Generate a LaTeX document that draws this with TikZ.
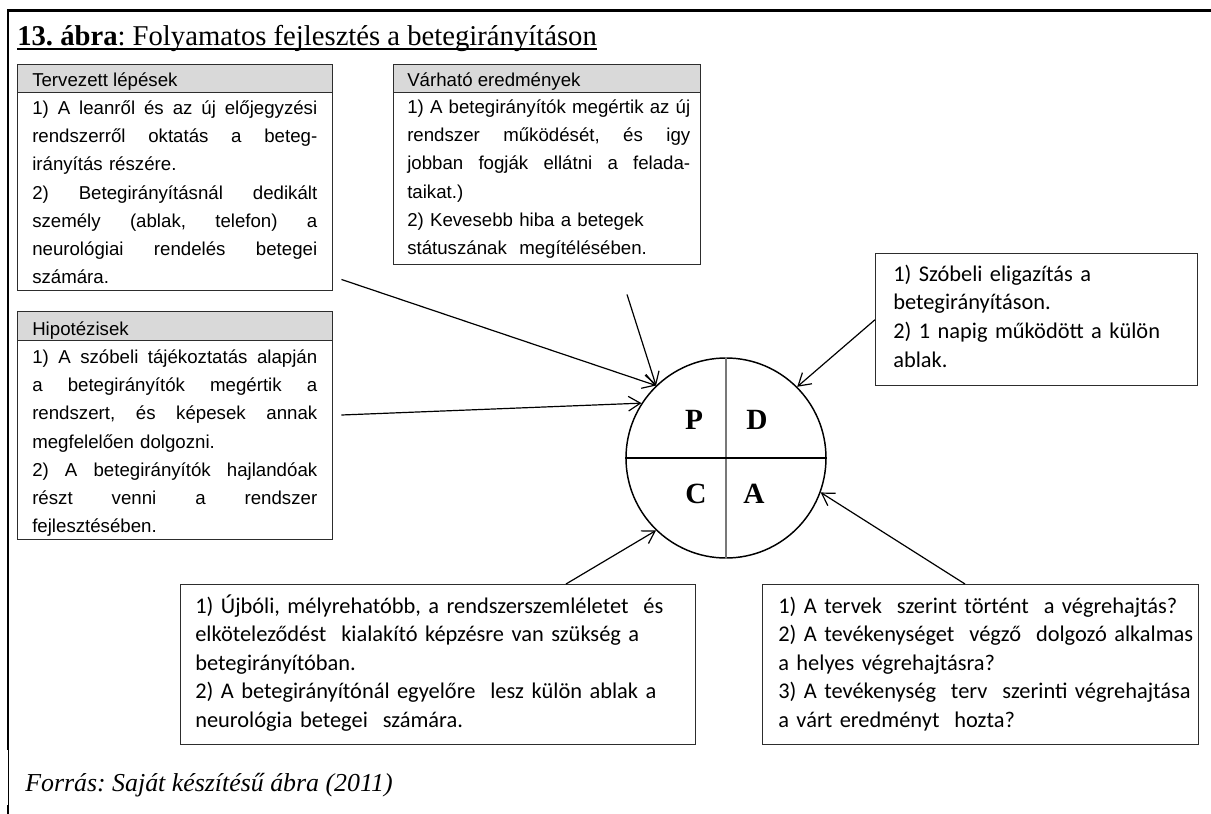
\documentclass[tikz,border=0pt]{standalone}
\usepackage{fontspec}
\setmainfont{Liberation Serif}
\newfontfamily\arialf{Liberation Sans}
\newfontfamily\calf{Carlito}
\usetikzlibrary{arrows.meta,calc}
\frenchspacing

\definecolor{hdrgray}{RGB}{217,217,217}
\definecolor{edgegray}{RGB}{45,45,45}
\definecolor{midgray}{RGB}{120,120,120}

% a justified line of a panel text: the word spaces stretch to the full width
\newcommand\jl[1]{\makebox[\linewidth][s]{\spaceskip=0.278em plus 10em\relax #1}}
\newcommand\sstrut{\rule{0pt}{15pt}}
\newcommand\cstrut{\rule{0pt}{17pt}}

\tikzset{
  panel/.style={draw=edgegray, line width=1.1pt, rectangle, inner sep=0pt, anchor=north west},
  header/.style={panel, fill=hdrgray},
  hdrtext/.style={font=\arialf\fontsize{14}{17}\selectfont, anchor=base west, inner sep=0pt},
  bodytext/.style={font=\arialf\fontsize{14}{21.2}\selectfont, anchor=north west, inner sep=0pt, align=left},
  notetext/.style={font=\calf\fontsize{16.8}{21.4}\selectfont, anchor=north west, inner sep=0pt, align=left, text width=380pt},
  letter/.style={font=\bfseries\fontsize{22}{22}\selectfont, anchor=base, inner sep=0pt},
  link/.style={line width=0.9pt, -{Straight Barb[length=9pt,width=11pt]}},
}

\begin{document}
\begin{tikzpicture}[x=0.75pt, y=-0.75pt]
\useasboundingbox (0,0) rectangle (1211,814);

% page frame
\draw[line width=2.25pt] (7,10) -- (1211,10);
\draw[line width=2pt] (8,9) -- (8,750);
\draw[line width=0.6pt] (8,750) -- (8,805);
\draw[line width=2pt] (8,805) -- (8,814);

% title
\node[anchor=base west, inner sep=0pt, font=\fontsize{21.5}{24}\selectfont] (title) at (17,45)
  {\textbf{13. ábra}: Folyamatos fejlesztés a betegirányításon};
\draw[line width=1.1pt] ($(title.base west)+(0,4)$) -- ($(title.base east)+(0,4)$);

% planned steps
\node[panel, minimum width=236.25pt, minimum height=169.5pt] (tbox) at (17,64) {};
\node[header, minimum width=236.25pt, minimum height=21pt] (thead) at (17,64) {};
\node[hdrtext] (thtext) at (32,86) {Tervezett lépések};
\node[bodytext, text width=213.75pt] (tbody) at (32,94) {%
\sstrut\jl{1) A leanről és az új előjegyzési}\\
\jl{rendszerről oktatás a beteg-}\\
irányítás részére.\\
\jl{2) Betegirányításnál dedikált}\\
\jl{személy (ablak, telefon) a}\\
\jl{neurológiai rendelés betegei}\\
számára.};

% hypotheses
\node[panel, minimum width=236.25pt, minimum height=171pt] (hbox) at (17,311) {};
\node[header, minimum width=236.25pt, minimum height=21.75pt] (hhead) at (17,311) {};
\node[hdrtext] (hhtext) at (32,335) {Hipotézisek};
\node[bodytext, text width=213.75pt] (hbody) at (32,343) {%
\sstrut\jl{1) A szóbeli tájékoztatás alapján}\\
\jl{a betegirányítók megértik a}\\
\jl{rendszert, és képesek annak}\\
megfelelően dolgozni.\\
\jl{2) A betegirányítók hajlandóak}\\
\jl{részt venni a rendszer}\\
fejlesztésében.};

% expected results
\node[panel, minimum width=230.25pt, minimum height=150pt] (vbox) at (393,64) {};
\node[header, minimum width=230.25pt, minimum height=21pt] (vhead) at (393,64) {};
\node[hdrtext] (vhtext) at (407,86) {Várható eredmények};
\node[bodytext, text width=212.25pt] (vbody) at (407,93) {%
\sstrut\jl{1) A betegirányítók megértik az új}\\
\jl{rendszer működését, és igy}\\
\jl{jobban fogják ellátni a felada-}\\
taikat.)\\
2) Kevesebb hiba a betegek\\
státuszának\ \ megítélésében.};

% PDCA circle
\node[circle, draw, line width=1.1pt, minimum size=150pt, inner sep=0pt] (pdca) at (726,458) {};
\draw[midgray, line width=1.7pt] (pdca.north) -- (pdca.south);
\draw[line width=1.1pt] (pdca.west) -- (pdca.east);
\node[letter] (lp) at (694,429) {P};
\node[letter] (ld) at (757,429) {D};
\node[letter] (lc) at (696,503) {C};
\node[letter] (la) at (754,503) {A};

% do
\node[panel, minimum width=241.5pt, minimum height=99pt] (dbox) at (875,253) {};
\node[notetext] (dtext) at (893,258.5) {%
\cstrut 1) Szóbeli eligazítás a\\
betegirányításon.\\
2) 1 napig működött a külön\\
ablak.};

% check
\node[panel, minimum width=386.25pt, minimum height=120pt] (cbox) at (180,584) {};
\node[notetext] (ctext) at (195,590.3) {%
\cstrut 1) Újbóli, mélyrehatóbb, a rendszerszemléletet\ \ és\\
elköteleződést\ \ kialakító képzésre van szükség a\\
betegirányítóban.\\
2) A betegirányítónál egyelőre\ \ lesz külön ablak a\\
neurológia betegei\ \ számára.};

% act
\node[panel, minimum width=327pt, minimum height=120pt] (abox) at (762,584) {};
\node[notetext] (atext) at (778,590.3) {%
\cstrut 1) A tervek\ \ szerint történt\ \ a végrehajtás?\\
2) A tevékenységet\ \ végző\ \ dolgozó alkalmas\\
a helyes végrehajtásra?\\
3) A tevékenység\ \ terv\ \ szerinti végrehajtása\\
a várt eredményt\ \ hozta?};

% connector start points
\coordinate (ts) at ($(tbox.south east)+(8,-12)$);
\coordinate (vs) at ($(vbox.south west)+(234,29)$);
\coordinate (hs) at ($(hbox.north east)+(8,104)$);
\coordinate (cs) at ($(cbox.north west)+(386,0)$);
\coordinate (as) at ($(abox.north west)+(203,0)$);

\draw[link] (ts) -- (pdca.134);
\draw[link] (vs) -- (pdca.134);
\draw[link] (hs) -- (pdca.147);
\draw[link] (dbox.west) -- (pdca.45);
\draw[link] (cs) -- (pdca.226);
\draw[link] (as) -- (pdca.-20);

% source
\node[anchor=base west, inner sep=0pt, font=\itshape\fontsize{19.4}{22}\selectfont] (src) at (25,791)
  {Forrás: Saját készítésű ábra (2011)};
\end{tikzpicture}
\end{document}
